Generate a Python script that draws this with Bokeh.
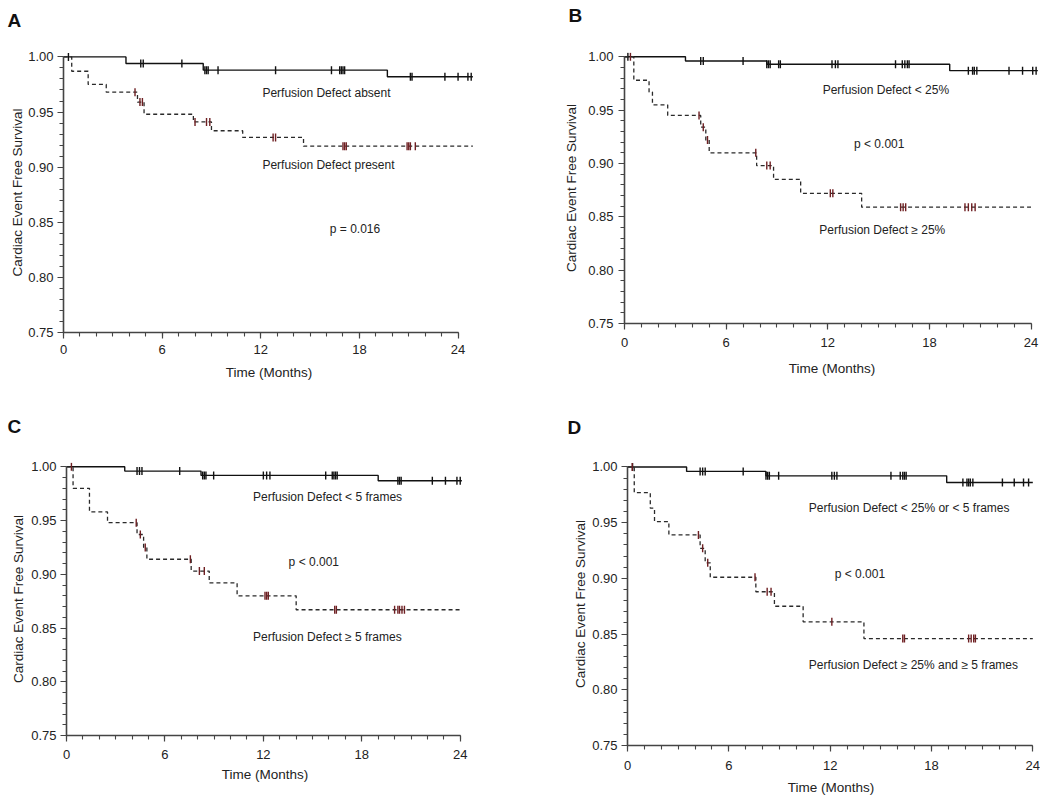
import numpy as np
from bokeh.plotting import figure
from bokeh.layouts import column, row
from bokeh.models import Range1d, FixedTicker, NumeralTickFormatter, ColumnDataSource, Title
from bokeh.core.properties import value
from bokeh.embed import file_html
from bokeh.resources import INLINE

FONT = "Liberation Sans"

# ---------------- data ----------------
x_ticks = [0, 6, 12, 18, 24]
y_ticks = [0.75, 0.80, 0.85, 0.90, 0.95, 1.00]

# Panel A
A_lo_t = [3.8, 8.5, 19.7]
A_lo_s = [0.994, 0.988, 0.982]
A_lo_end = 24.9
A_lo_cens = [0.3, 4.7, 4.85, 7.2, 8.6, 8.7, 8.8, 9.4, 12.9, 16.3, 16.8, 16.9, 17.0, 17.1,
             21.1, 21.2, 23.2, 24.0, 24.6, 24.8]
A_hi_t = [0.5, 1.5, 2.6, 4.5, 4.9, 7.9, 9.0, 10.9, 14.6]
A_hi_s = [0.987, 0.975, 0.968, 0.959, 0.948, 0.941, 0.933, 0.927, 0.919]
A_hi_end = 24.9
A_hi_cens = [4.35, 4.65, 4.8, 8.0, 8.7, 8.9, 12.75, 12.9, 17.0, 17.1, 17.2,
             20.9, 21.0, 21.1, 21.4]

# Panel B
B_lo_t = [3.6, 8.4, 19.2]
B_lo_s = [0.996, 0.993, 0.987]
B_lo_end = 24.4
B_lo_cens = [0.2, 4.5, 4.65, 7.0, 8.4, 8.5, 8.6, 9.1, 9.2, 12.25, 12.45, 12.6, 16.0,
             16.4, 16.55, 16.7, 16.8, 20.3, 20.55, 20.65, 20.8, 22.7, 23.5, 24.1, 24.3]
B_hi_t = [0.55, 1.45, 1.65, 2.55, 4.5, 4.8, 5.0, 7.8, 8.8, 10.4, 14.0]
B_hi_s = [0.978, 0.967, 0.955, 0.945, 0.934, 0.922, 0.910, 0.898, 0.885, 0.872, 0.859]
B_hi_end = 24.0
B_hi_cens = [0.35, 4.4, 4.65, 4.9, 7.75, 8.4, 8.6, 12.15, 12.3, 16.3, 16.45, 16.6,
             20.1, 20.3, 20.5, 20.7]

# Panel C
C_lo_t = [3.55, 8.2, 19.0]
C_lo_s = [0.996, 0.992, 0.987]
C_lo_end = 24.1
C_lo_cens = [4.3, 4.45, 4.6, 6.9, 8.3, 8.4, 8.5, 8.97, 12.0, 12.2, 12.4, 15.8, 16.2,
             16.3, 16.4, 16.5, 20.2, 20.3, 20.4, 22.3, 23.1, 23.8, 24.0]
C_hi_t = [0.4, 1.4, 2.5, 4.3, 4.7, 4.9, 7.6, 8.7, 10.4, 14.0]
C_hi_s = [0.980, 0.958, 0.948, 0.937, 0.925, 0.914, 0.903, 0.892, 0.880, 0.867]
C_hi_end = 24.0
C_hi_cens = [0.3, 4.25, 4.5, 4.8, 7.55, 8.1, 8.4, 12.1, 12.2, 12.3, 16.35, 16.45,
             20.0, 20.2, 20.3, 20.45, 20.6]

# Panel D
D_lo_t = [3.5, 8.2, 18.9]
D_lo_s = [0.996, 0.992, 0.986]
D_lo_end = 24.0
D_lo_cens = [0.3, 4.3, 4.45, 4.6, 6.85, 8.2, 8.3, 8.4, 8.95, 12.1, 12.25, 12.4, 15.6,
             16.15, 16.3, 16.4, 16.5, 19.86, 20.1, 20.2, 20.3, 20.45, 22.2, 22.9, 23.45, 23.75]
D_hi_t = [0.4, 1.35, 1.6, 2.45, 4.3, 4.6, 4.9, 7.6, 8.7, 10.4, 14.0]
D_hi_s = [0.977, 0.963, 0.951, 0.939, 0.927, 0.914, 0.901, 0.888, 0.875, 0.861, 0.846]
D_hi_end = 24.0
D_hi_cens = [0.28, 4.2, 4.45, 4.75, 7.55, 8.27, 8.5, 12.1, 16.3, 16.4, 20.2, 20.35,
             20.5, 20.6]

A_texts = ["Perfusion Defect absent", "Perfusion Defect present", "p = 0.016"]
B_texts = ["Perfusion Defect < 25%", "Perfusion Defect \u2265 25%", "p < 0.001"]
C_texts = ["Perfusion Defect < 5 frames", "Perfusion Defect \u2265 5 frames", "p < 0.001"]
D_texts = ["Perfusion Defect < 25% or < 5 frames",
           "Perfusion Defect \u2265 25% and \u2265 5 frames", "p < 0.001"]


def level_at(times, levels, t):
    s = 1.0
    for ti, si in zip(times, levels):
        if t >= ti:
            s = si
    return s


def make_panel(letter, lo, hi, texts, text_pos, geom, title_pos, xstand, ystand):
    x_end, fw, fh, bl, br, bt, bb = geom
    p = figure(output_backend="svg", toolbar_location=None,
               frame_width=fw, frame_height=fh,
               min_border_left=bl, min_border_right=br,
               min_border_top=bt, min_border_bottom=bb,
               x_range=Range1d(0, x_end), y_range=Range1d(0.75, 1.004),
               background_fill_color="white", border_fill_color="white")
    p.outline_line_color = None
    p.grid.visible = False

    # spacer (nearest the frame) then the panel letter above it
    p.add_layout(Title(text=" ", text_font_size="2px", standoff=title_pos[1]), "above")
    p.add_layout(Title(text=letter, align="left", vertical_align="top", offset=title_pos[0],
                       standoff=0, text_font=FONT, text_font_size="19px",
                       text_font_style="bold", text_color="#111111"), "above")

    for ax in (p.xaxis[0], p.yaxis[0]):
        ax.axis_line_color = "#444444"
        ax.axis_line_width = 1.6
        ax.major_tick_line_color = "#444444"
        ax.major_tick_line_width = 1.2
        ax.minor_tick_line_color = "#444444"
        ax.minor_tick_line_width = 1.1
        ax.major_tick_in = 0
        ax.major_tick_out = 6
        ax.minor_tick_in = 0
        ax.minor_tick_out = 4
        ax.major_label_text_font = FONT
        ax.major_label_text_font_size = "13px"
        ax.major_label_text_color = "#222222"
        ax.axis_label_text_font = FONT
        ax.axis_label_text_font_size = "13.5px"
        ax.axis_label_text_font_style = "normal"
        ax.axis_label_text_color = "#222222"

    p.xaxis.ticker = FixedTicker(ticks=x_ticks, minor_ticks=[float(i) for i in range(25)])
    p.xaxis.bounds = (0, 24)
    p.xaxis.axis_label = "Time (Months)"
    p.xaxis.major_label_standoff = xstand[0]
    p.xaxis.axis_label_standoff = xstand[1]
    p.yaxis.ticker = FixedTicker(ticks=y_ticks,
                                 minor_ticks=[round(0.75 + 0.01 * i, 2) for i in range(26)])
    p.yaxis.bounds = (0.75, 1.0)
    p.yaxis.formatter = NumeralTickFormatter(format="0.00")
    p.yaxis.axis_label = "Cardiac Event Free Survival"
    p.yaxis.major_label_standoff = ystand[0]
    p.yaxis.axis_label_standoff = ystand[1]

    # curves
    for (times, levels, end, cens), dashed in ((lo, False), (hi, True)):
        xs = [0.0] + list(times) + [end]
        ys = [1.0] + list(levels) + [levels[-1]]
        if dashed:
            p.step(xs, ys, mode="after", line_color="#2a2a2a", line_width=1.3,
                   line_dash="4 3")
            ccol = "#6e1f22"
        else:
            p.step(xs, ys, mode="after", line_color="#111111", line_width=1.4)
            ccol = "#111111"
        cy = [level_at(times, levels, t) for t in cens]
        p.scatter(cens, cy, marker="dash", angle=np.pi / 2, size=8,
                  line_color=ccol, line_width=1.4)

    src = ColumnDataSource(dict(x=[q[0] for q in text_pos], y=[q[1] for q in text_pos], t=texts))
    p.text(x="x", y="y", text="t", source=src, text_font=value(FONT),
           text_font_size="12px", text_align="left", text_baseline="middle",
           text_color="#222222")
    return p


pA = make_panel("A", (A_lo_t, A_lo_s, A_lo_end, A_lo_cens), (A_hi_t, A_hi_s, A_hi_end, A_hi_cens),
                A_texts, [(12.1, 0.967), (12.1, 0.9015), (16.2, 0.8436)],
                (25.0, 411, 280, 63, 66, 48, 72), (-56, 16), (6, 8), (4, 0))
pB = make_panel("B", (B_lo_t, B_lo_s, B_lo_end, B_lo_cens), (B_hi_t, B_hi_s, B_hi_end, B_hi_cens),
                B_texts, [(11.7, 0.969), (11.5, 0.838), (13.55, 0.918)],
                (24.5, 415, 271, 84, 2, 52, 77), (-56, 21), (8, 11), (5, 6))
pC = make_panel("C", (C_lo_t, C_lo_s, C_lo_end, C_lo_cens), (C_hi_t, C_hi_s, C_hi_end, C_hi_cens),
                C_texts, [(11.37, 0.9716), (11.37, 0.842), (13.54, 0.9117)],
                (24.2, 397, 273, 66, 77, 62, 58), (-59, 20), (8, 5), (4, 2))
pD = make_panel("D", (D_lo_t, D_lo_s, D_lo_end, D_lo_cens), (D_hi_t, D_hi_s, D_hi_end, D_hi_cens),
                D_texts, [(10.73, 0.963), (10.73, 0.822), (12.27, 0.9035)],
                (24.1, 407, 283, 87, 6, 60, 50), (-60, 19), (9, 7), (4, 1))

layout = column(row(pA, pB), row(pC, pD))
open("out.html", "w").write(file_html(layout, INLINE))
